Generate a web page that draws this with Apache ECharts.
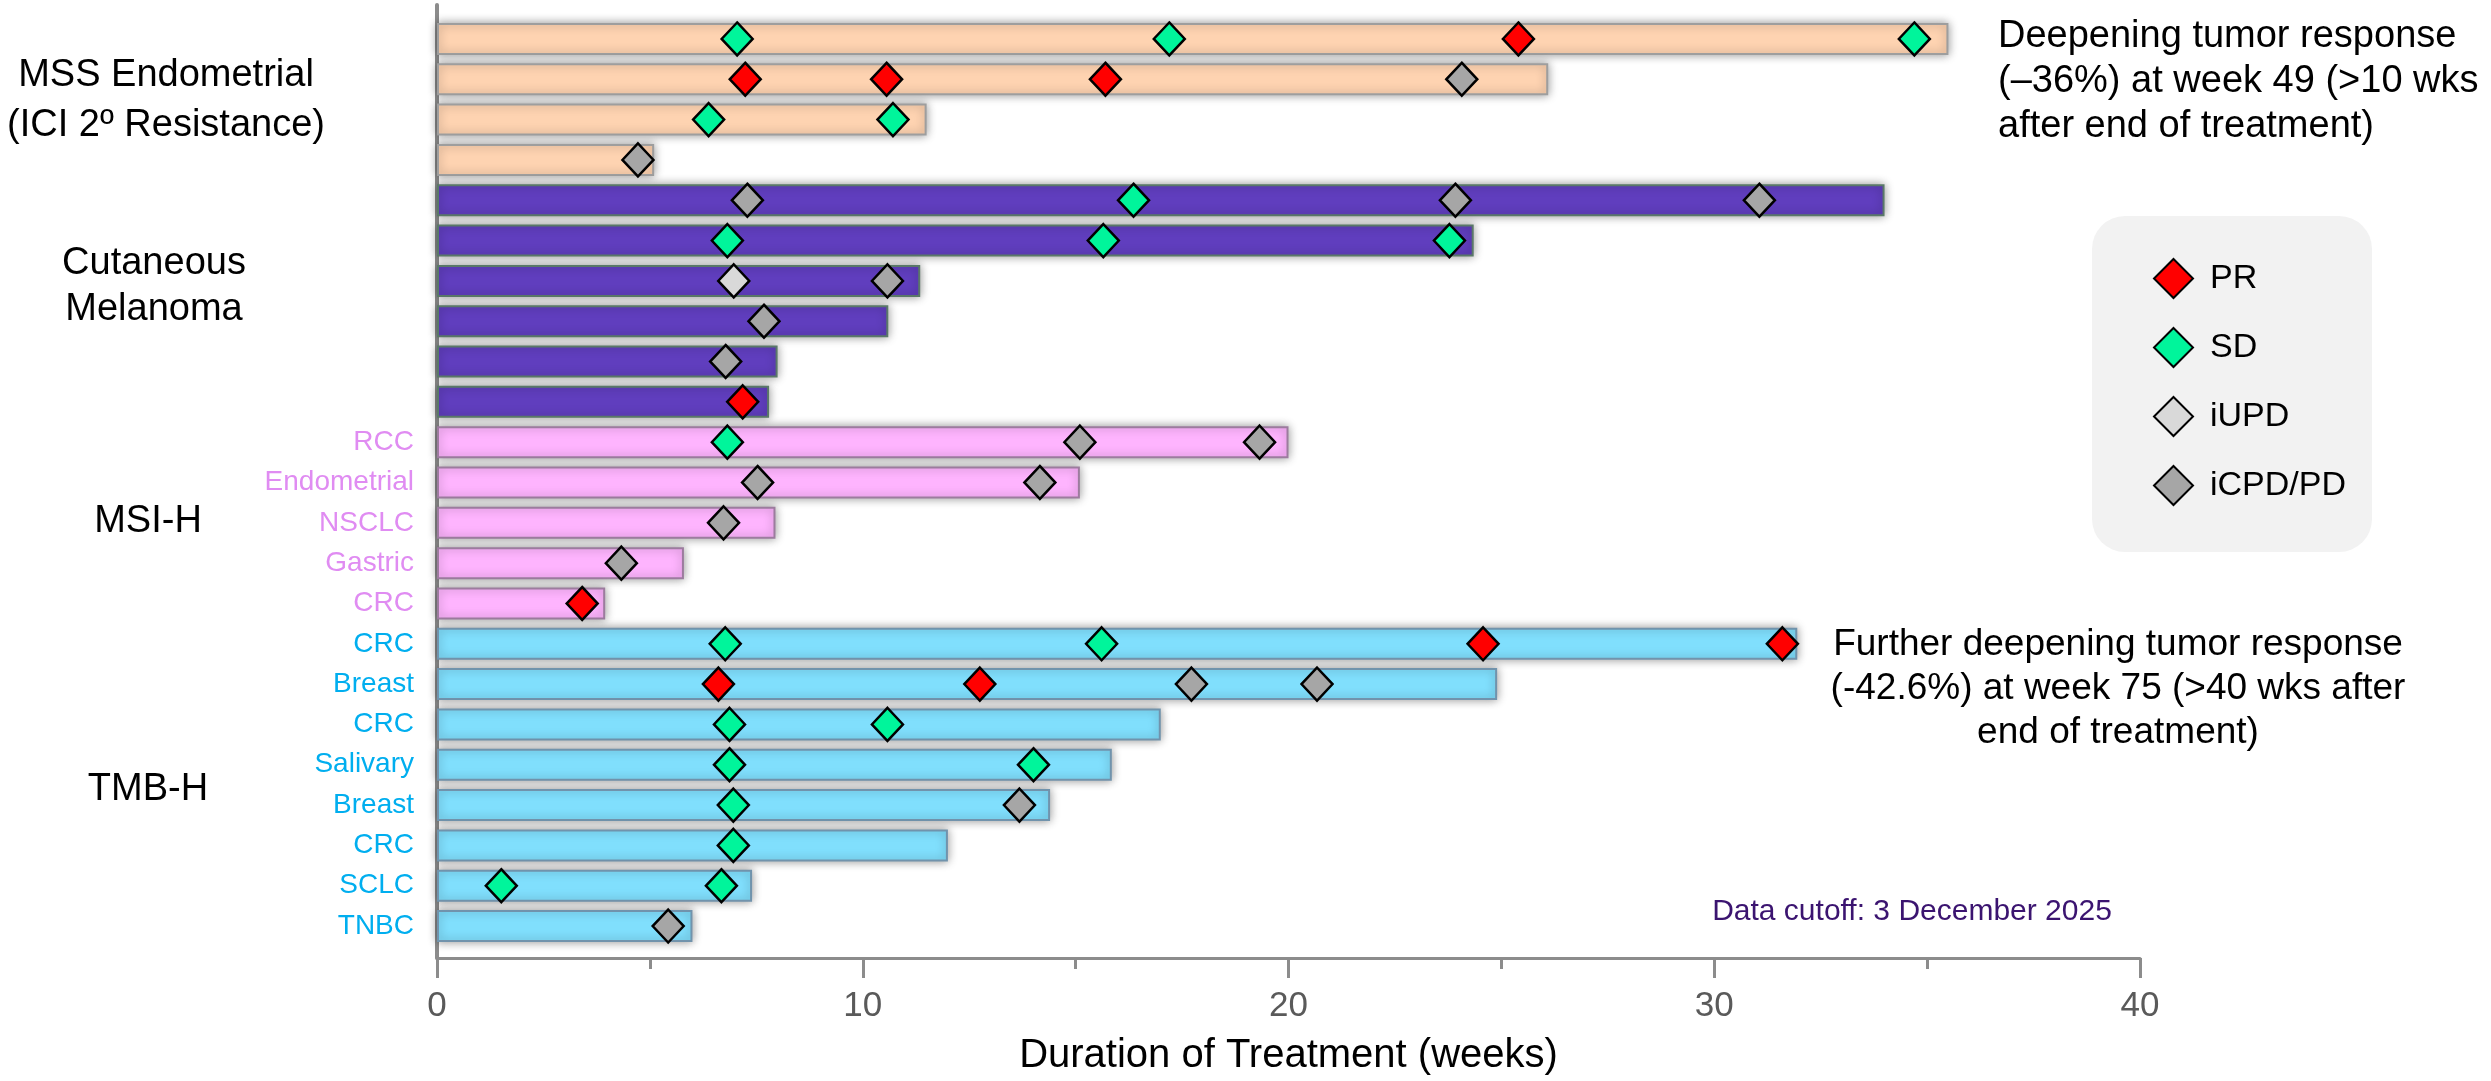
<!DOCTYPE html>
<html>
<head>
<meta charset="utf-8">
<title>Duration of Treatment</title>
<script src="https://cdn.jsdelivr.net/npm/echarts@6/dist/echarts.min.js"></script>
<style>
  html, body { margin: 0; padding: 0; background: #ffffff; }
  #chart { width: 2491px; height: 1081px; }
</style>
</head>
<body>
<div id="chart"></div>
<script>
// One row per patient, top to bottom
const rowLabels = ['', '', '', '', '', '', '', '', '', '',
  'RCC', 'Endometrial', 'NSCLC', 'Gastric', 'CRC',
  'CRC', 'Breast', 'CRC', 'Salivary', 'Breast', 'CRC', 'SCLC', 'TNBC'];
const rowCohorts = ['MSS', 'MSS', 'MSS', 'MSS',
  'MEL', 'MEL', 'MEL', 'MEL', 'MEL', 'MEL',
  'MSI', 'MSI', 'MSI', 'MSI', 'MSI',
  'TMB', 'TMB', 'TMB', 'TMB', 'TMB', 'TMB', 'TMB', 'TMB'];
// Duration of treatment (weeks)
const durationWeeks = [35.5, 26.1, 11.5, 5.1,
  34.0, 24.35, 11.35, 10.6, 8.0, 7.8,
  20.0, 15.1, 7.95, 5.8, 3.95,
  31.95, 24.9, 17.0, 15.85, 14.4, 12.0, 7.4, 6.0];

// Response assessments: [week, row]
const prPoints = [[25.4, 0], [7.24, 1], [10.56, 1], [15.7, 1], [7.18, 9], [3.41, 14],
  [24.57, 15], [31.6, 15], [6.61, 16], [12.75, 16]];
const sdPoints = [[7.05, 0], [17.2, 0], [34.7, 0], [6.38, 2], [10.71, 2],
  [16.36, 4], [6.82, 5], [15.65, 5], [23.78, 5], [6.82, 10],
  [6.77, 15], [15.61, 15], [6.87, 17], [10.58, 17], [6.87, 18], [14.01, 18],
  [6.96, 19], [6.96, 20], [1.51, 21], [6.68, 21]];
const iupdPoints = [[6.97, 6]];
const icpdPoints = [[24.07, 1], [4.72, 3], [7.29, 4], [23.92, 4], [31.06, 4],
  [10.58, 6], [7.68, 7], [6.78, 8], [15.1, 10], [19.32, 10], [7.53, 11], [14.16, 11],
  [6.73, 12], [4.33, 13], [17.72, 16], [20.67, 16], [13.68, 19], [5.43, 22]];

const weekTicks = [0, 10, 20, 30, 40];
const responseNames = ['PR', 'SD', 'iUPD', 'iCPD/PD'];

const FONT = '"Liberation Sans", Arial, Helvetica, sans-serif';

const cohortStyle = {
  MSS: { color: '#FED3B1', borderColor: '#9E9E9E', label: '#000000' },
  MEL: { color: '#603EBE', borderColor: '#5A7868', label: '#000000' },
  MSI: { color: '#FEB4FE', borderColor: '#9C7C9E', label: '#E08CF2' },
  TMB: { color: '#80DFFD', borderColor: '#7193AC', label: '#00AEEF' }
};
const responseColors = { 'PR': '#FF0000', 'SD': '#00F59B', 'iUPD': '#D9D9D9', 'iCPD/PD': '#A6A6A6' };

const barData = durationWeeks.map((v, i) => {
  const s = cohortStyle[rowCohorts[i]];
  return {
    value: v,
    itemStyle: {
      color: s.color,
      borderColor: s.borderColor,
      borderWidth: 2,
      shadowColor: 'rgba(0,0,0,0.4)',
      shadowBlur: 10
    }
  };
});

const categoryData = rowLabels.map((name, i) => ({
  value: name,
  textStyle: { color: cohortStyle[rowCohorts[i]].label }
}));

function markerSeries(name, points) {
  return {
    name: name,
    type: 'scatter',
    xAxisIndex: 0,
    yAxisIndex: 0,
    symbol: 'diamond',
    symbolSize: [31, 33],
    z: 5,
    itemStyle: { color: responseColors[name], borderColor: '#000000', borderWidth: 2.5, opacity: 1 },
    emphasis: { disabled: true },
    data: points
  };
}

const chart = echarts.init(document.getElementById('chart'), null, { renderer: 'canvas' });

const textBase = { fontFamily: FONT, fill: '#000000', align: 'center', verticalAlign: 'middle' };

chart.setOption({
  animation: false,
  backgroundColor: '#ffffff',
  grid: [
    { left: 437, right: 351, top: 18.8, height: 927.4 },
    { left: 437, right: 351, top: 5, height: 955 }
  ],
  xAxis: [
    { gridIndex: 0, type: 'value', min: weekTicks[0], max: weekTicks[weekTicks.length - 1], show: false },
    {
      gridIndex: 1, type: 'value',
      min: weekTicks[0], max: weekTicks[weekTicks.length - 1], interval: weekTicks[1] - weekTicks[0],
      axisLine: { show: true, lineStyle: { color: '#8C8C8C', width: 3 } },
      axisTick: { show: true, length: 20, lineStyle: { color: '#8C8C8C', width: 3 } },
      minorTick: { show: true, splitNumber: 2, length: 11, lineStyle: { color: '#8C8C8C', width: 3 } },
      splitLine: { show: false },
      axisLabel: { show: true, margin: 31, fontSize: 35, color: '#5A5A5A', fontFamily: FONT },
      name: 'Duration of Treatment (weeks)',
      nameLocation: 'middle',
      nameGap: 78,
      nameTextStyle: { fontSize: 40, color: '#000000', fontFamily: FONT }
    }
  ],
  yAxis: [
    {
      gridIndex: 0, type: 'category', inverse: true, data: categoryData,
      axisLine: { show: false }, axisTick: { show: false },
      axisLabel: { margin: 23, fontSize: 28, fontFamily: FONT }
    },
    {
      gridIndex: 1, type: 'value', min: 0, max: 1,
      axisLine: { show: true, lineStyle: { color: '#8C8C8C', width: 4 } },
      axisTick: { show: false }, axisLabel: { show: false }, splitLine: { show: false }
    }
  ],
  legend: {
    data: responseNames.map(n => ({ name: n, icon: 'diamond' })),
    orient: 'vertical',
    left: 2092, top: 216,
    padding: [42, 26, 46, 61],
    itemWidth: 39, itemHeight: 39, itemGap: 28,
    backgroundColor: '#F2F2F2',
    borderRadius: 33,
    selectedMode: false,
    textStyle: { fontSize: 34, color: '#000000', fontFamily: FONT, padding: [0, 0, 0, 12] }
  },
  series: [
    {
      name: 'Duration',
      type: 'bar',
      xAxisIndex: 0, yAxisIndex: 0,
      barWidth: 32,
      z: 2,
      emphasis: { disabled: true },
      data: barData
    },
    markerSeries('PR', prPoints),
    markerSeries('SD', sdPoints),
    markerSeries('iUPD', iupdPoints),
    markerSeries('iCPD/PD', icpdPoints)
  ],
  graphic: [
    { type: 'text', x: 166, y: 101, style: Object.assign({}, textBase, { text: 'MSS Endometrial\n(ICI 2º Resistance)', fontSize: 38, lineHeight: 50 }) },
    { type: 'text', x: 154, y: 287, style: Object.assign({}, textBase, { text: 'Cutaneous\nMelanoma', fontSize: 38, lineHeight: 46 }) },
    { type: 'text', x: 148, y: 522, style: Object.assign({}, textBase, { text: 'MSI-H', fontSize: 38 }) },
    { type: 'text', x: 148, y: 790, style: Object.assign({}, textBase, { text: 'TMB-H', fontSize: 38 }) },
    { type: 'text', x: 1998, y: 82, style: Object.assign({}, textBase, { align: 'left', text: 'Deepening tumor response\n(–36%) at week 49 (>10 wks\nafter end of treatment)', fontSize: 38, lineHeight: 45 }) },
    { type: 'text', x: 2118, y: 689, style: Object.assign({}, textBase, { text: 'Further deepening tumor response\n(-42.6%) at week 75 (>40 wks after\nend of treatment)', fontSize: 37, lineHeight: 44 }) },
    { type: 'text', x: 1912, y: 912, style: Object.assign({}, textBase, { text: 'Data cutoff: 3 December 2025', fontSize: 30, fill: '#3B1470' }) }
  ]
});
</script>
</body>
</html>
